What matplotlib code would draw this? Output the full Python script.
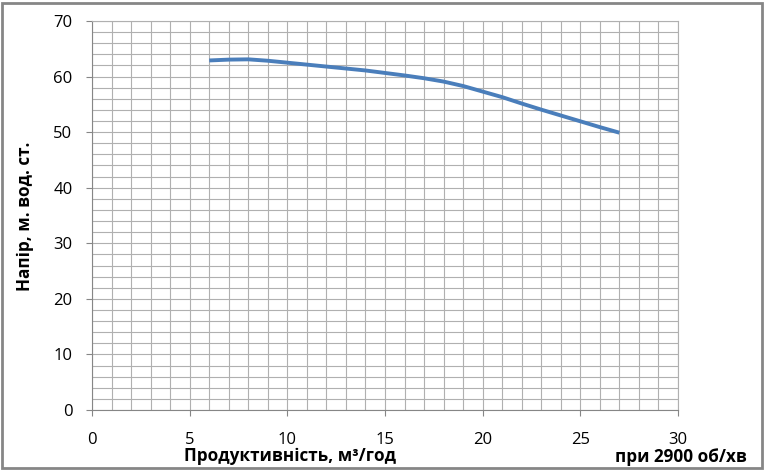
"""Pump head curve (Excel-style chart)."""

import matplotlib
matplotlib.use("Agg")
import matplotlib.pyplot as plt
from matplotlib.patches import Rectangle
from matplotlib.ticker import MultipleLocator

# Data
flow = [6, 7, 8, 9, 10, 12, 14, 16, 17, 18, 19, 20, 21, 22, 23, 24, 25, 26, 27]
head = [62.9, 63.05, 63.1, 62.85, 62.5, 61.8, 61.1, 60.2, 59.7, 59.1, 58.3,
        57.3, 56.3, 55.15, 54.05, 53.0, 51.95, 50.9, 49.9]

x_label = "Продуктивність, м³/год"
y_label = "Напір, м. вод. ст."
speed_note = "при 2900 об/хв"

plt.rcParams["font.family"] = ["Open Sans", "DejaVu Sans"]

fig = plt.figure(figsize=(7.65, 4.70), dpi=100)
ax = fig.add_axes([92 / 765, 60 / 470, 586 / 765, 389 / 470])

ax.plot(flow, head, color="#4A7EBB", linewidth=2.8, solid_capstyle="butt",
        solid_joinstyle="round", zorder=3)

ax.set_xlim(0, 30)
ax.set_ylim(0, 70)
ax.xaxis.set_major_locator(MultipleLocator(5))
ax.xaxis.set_minor_locator(MultipleLocator(1))
ax.yaxis.set_major_locator(MultipleLocator(10))
ax.yaxis.set_minor_locator(MultipleLocator(2))

# Grid on every minor step
ax.grid(which="both", color="#B0B0B0", linewidth=0.8)
ax.set_axisbelow(True)
ax.tick_params(which="minor", length=0)
ax.tick_params(which="major", length=4, width=0.8, color="#868686",
               labelsize=12, labelcolor="#000000")
ax.tick_params(axis="x", which="major", pad=12)
ax.tick_params(axis="y", which="major", pad=10)

for spine in ax.spines.values():
    spine.set_color("#B0B0B0")
    spine.set_linewidth(0.8)
ax.spines["left"].set_color("#868686")
ax.spines["bottom"].set_color("#868686")

# Axis titles placed like in the original chart
fig.text(25 / 765, 1 - 216 / 470, y_label, rotation=90, fontsize=12.3,
         fontweight="bold", ha="center", va="center")
fig.text(290 / 765, 1 - 456 / 470, x_label, fontsize=12.3,
         fontweight="bold", ha="center", va="center")
fig.text(747 / 765, 1 - 457 / 470, speed_note, fontsize=12.3,
         fontweight="bold", ha="right", va="center")

# Chart area border
fig.patches.append(Rectangle((0.002, 0.004), 0.994, 0.99, transform=fig.transFigure,
                             fill=False, edgecolor="#868686", linewidth=2))

fig.savefig("out.png", dpi=100)
